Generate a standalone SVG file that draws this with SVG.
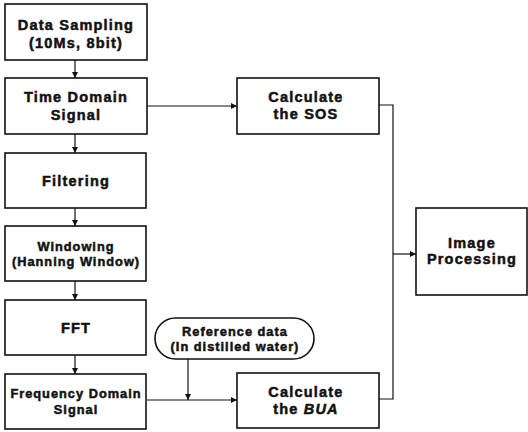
<svg xmlns="http://www.w3.org/2000/svg" width="528" height="432" viewBox="0 0 528 432">
<defs>
<marker id="ah" viewBox="0 0 6 6" refX="6" refY="3" markerWidth="6" markerHeight="6" markerUnits="userSpaceOnUse" orient="auto">
<path d="M0,0 L6,3 L0,6 Z" fill="#111"/>
</marker>
<style>
.box{fill:#fff;stroke:#111;stroke-width:1.6}
.t{font-family:"Liberation Sans",Arial,sans-serif;font-weight:bold;fill:#111;stroke:#111;stroke-width:0.5;text-anchor:middle}
.l{font-size:14.5px;letter-spacing:1.2px}
.s{font-size:12.8px;letter-spacing:1px}
.c{fill:none;stroke:#111;stroke-width:1.2}
</style>
</defs>
<rect width="528" height="432" fill="#fff"/>
<g id="connectors">
<line class="c" x1="75" y1="60" x2="75" y2="78" marker-end="url(#ah)"/>
<line class="c" x1="75" y1="134" x2="75" y2="153" marker-end="url(#ah)"/>
<line class="c" x1="75" y1="208" x2="75" y2="226" marker-end="url(#ah)"/>
<line class="c" x1="75" y1="281" x2="75" y2="300" marker-end="url(#ah)"/>
<line class="c" x1="75" y1="355" x2="75" y2="374" marker-end="url(#ah)"/>
<line class="c" x1="147" y1="106" x2="237" y2="106" marker-end="url(#ah)"/>
<line class="c" x1="147" y1="400" x2="237" y2="400" marker-end="url(#ah)"/>
<line class="c" x1="188" y1="359" x2="188" y2="400" marker-end="url(#ah)"/>
<polyline class="c" points="379,105 393,105 393,399 379,399"/>
<line class="c" x1="393" y1="254" x2="416" y2="254" marker-end="url(#ah)"/>
</g>
<g id="data-sampling">
<rect class="box" x="5" y="4" width="142" height="56"/>
<text class="t l" x="76" y="30">Data Sampling</text>
<text class="t l" x="76" y="48">(10Ms, 8bit)</text>
</g>
<g id="time-domain">
<rect class="box" x="5" y="78" width="142" height="56"/>
<text class="t l" x="76" y="102">Time Domain</text>
<text class="t l" x="76" y="120">Signal</text>
</g>
<g id="filtering">
<rect class="box" x="5" y="153" width="141" height="55"/>
<text class="t l" x="76" y="186">Filtering</text>
</g>
<g id="windowing">
<rect class="box" x="5" y="226" width="141" height="55"/>
<text class="t s" x="76" y="251">Windowing</text>
<text class="t s" x="76" y="266">(Hanning Window)</text>
</g>
<g id="fft">
<rect class="box" x="5" y="300" width="141" height="55"/>
<text class="t l" x="76" y="333">FFT</text>
</g>
<g id="frequency-domain">
<rect class="box" x="5" y="374" width="141" height="55"/>
<text class="t s" x="76" y="398">Frequency Domain</text>
<text class="t s" x="76" y="414">Signal</text>
</g>
<g id="calc-sos">
<rect class="box" x="237" y="78" width="142" height="56"/>
<text class="t l" x="306" y="102">Calculate</text>
<text class="t l" x="306" y="119">the SOS</text>
</g>
<g id="reference-data">
<rect class="box" x="155" y="318" width="159" height="41" rx="20.5" ry="20.5"/>
<text class="t s" x="235" y="336">Reference data</text>
<text class="t s" x="235" y="351">(In distilled water)</text>
</g>
<g id="calc-bua">
<rect class="box" x="237" y="373" width="142" height="55"/>
<text class="t l" x="306" y="397">Calculate</text>
<text class="t l" x="306" y="414">the <tspan font-style="italic">BUA</tspan></text>
</g>
<g id="image-processing">
<rect class="box" x="416" y="208" width="111" height="87"/>
<text class="t l" x="472" y="248">Image</text>
<text class="t l" x="472" y="264">Processing</text>
</g>
</svg>
